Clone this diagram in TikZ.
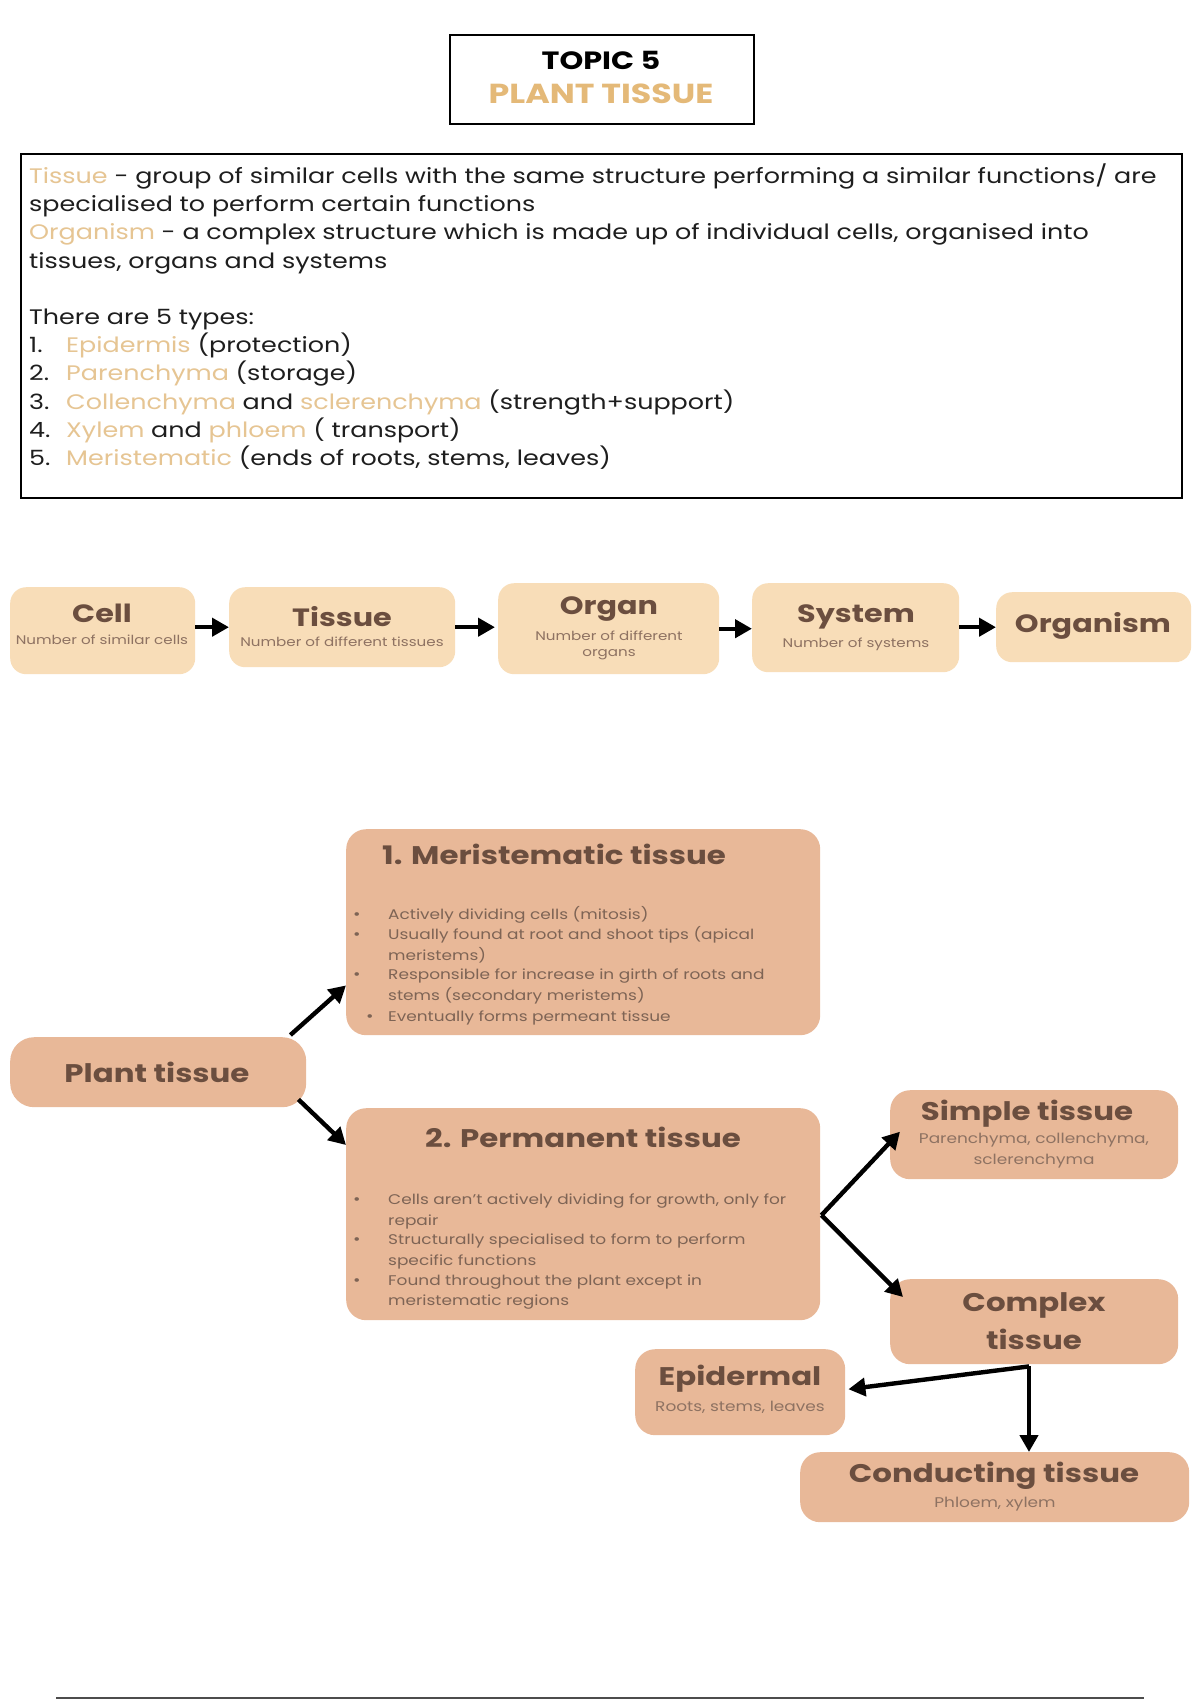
\documentclass[tikz,border=0pt]{standalone}
\usepackage{fontspec}
\setmainfont{Poppins}[FakeStretch=1.21]
\usetikzlibrary{arrows.meta,calc}
\definecolor{hl}{HTML}{E6C593}
\definecolor{ttl}{HTML}{E4B978}
\definecolor{lightbox}{HTML}{F8DDB8}
\definecolor{darkbox}{HTML}{E8B898}
\definecolor{headc}{HTML}{6B4E3F}
\definecolor{subc}{HTML}{8E7262}
\definecolor{bodyc}{HTML}{1E1E1E}
\definecolor{bulc}{HTML}{7E6455}
\begin{document}
\begin{tikzpicture}[x=1pt,y=-1pt,
  frame/.style={draw=black, line width=2pt, anchor=north west, inner sep=0},
  rowbox/.style={fill=lightbox, rounded corners=16pt, anchor=north west, inner sep=0},
  tbox/.style={fill=darkbox, rounded corners=20pt, anchor=north west, inner sep=0},
  arr/.style={line width=4.4pt, -{Triangle[length=17pt,width=18pt]}},
  deftxt/.style={anchor=base west, inner sep=0, text=bodyc, font=\fontsize{21}{26}\selectfont},
  rowhead/.style={inner sep=0, text=headc, font=\fontsize{25}{30}\selectfont\bfseries},
  rowsub/.style={inner sep=0, text=subc, font=\fontsize{12.5}{15}\selectfont},
  bighead/.style={inner sep=0, text=headc, font=\fontsize{25.5}{30}\selectfont\bfseries},
  boxsub/.style={inner sep=0, text=subc, font=\fontsize{14}{17}\selectfont},
  bultxt/.style={anchor=base west, inner sep=0, text=bulc, font=\fontsize{14}{17}\selectfont},
  bul/.style={anchor=base west, inner sep=0, text=bulc, font=\fontsize{15}{17}\selectfont}
]
\useasboundingbox[fill=white] (0,0) rectangle (1200,1700);

% ---- title box
\node[frame, minimum width=304pt, minimum height=89pt] (title) at (449,34) {};
\node[inner sep=0, font=\fontsize{25}{30}\selectfont\bfseries] (t1) at (601,60) {TOPIC 5};
\node[inner sep=0, text=ttl, font=\fontsize{27.5}{30}\selectfont\bfseries] (t2) at (601,94) {PLANT TISSUE};

% ---- definition box
\node[frame, minimum width=1161pt, minimum height=344pt] (defs) at (20,153) {};
\node[deftxt] (d1) at (29,183) {\textcolor{hl}{Tissue} - group of similar cells with the same structure performing a similar functions/ are};
\node[deftxt] (d2) at (29,211) {specialised to perform certain functions};
\node[deftxt] (d3) at (29,239) {\textcolor{hl}{Organism} - a complex structure which is made up of individual cells, organised into};
\node[deftxt] (d4) at (29,268) {tissues, organs and systems};
\node[deftxt] (d6) at (29,324) {There are 5 types:};
\node[deftxt] (n1) at (29,352) {1.};
\node[deftxt] (n2) at (29,380) {2.};
\node[deftxt] (n3) at (29,409) {3.};
\node[deftxt] (n4) at (29,437) {4.};
\node[deftxt] (n5) at (29,465) {5.};
\node[deftxt] (i1) at (66,352) {\textcolor{hl}{Epidermis} (protection)};
\node[deftxt] (i2) at (66,380) {\textcolor{hl}{Parenchyma} (storage)};
\node[deftxt] (i3) at (66,409) {\textcolor{hl}{Collenchyma} and \textcolor{hl}{sclerenchyma} (strength+support)};
\node[deftxt] (i4) at (66,437) {\textcolor{hl}{Xylem} and \textcolor{hl}{phloem} ( transport)};
\node[deftxt] (i5) at (66,465) {\textcolor{hl}{Meristematic} (ends of roots, stems, leaves)};

% ---- hierarchy row
\node[rowbox, minimum width=185pt, minimum height=87pt] (cell) at (10,587) {};
\node[rowbox, minimum width=226pt, minimum height=80pt] (tissue) at (229,587) {};
\node[rowbox, minimum width=221pt, minimum height=91pt] (organ) at (498,583) {};
\node[rowbox, minimum width=207pt, minimum height=89pt] (system) at (752,583) {};
\node[rowbox, minimum width=195pt, minimum height=70pt] (organism) at (996,592) {};

\node[rowhead] (cellh) at (102,613) {Cell};
\node[rowsub] (cells) at (102,640) {Number of similar cells};
\node[rowhead] (tissueh) at (342,617) {Tissue};
\node[rowsub] (tissues) at (342,642) {Number of different tissues};
\node[rowhead] (organh) at (609,609) {Organ};
\node[rowsub] (organs1) at (609,636) {Number of different};
\node[rowsub] (organs2) at (609,655) {organs};
\node[rowhead] (systemh) at (856,617) {System};
\node[rowsub] (systems) at (856,644) {Number of systems};
\node[rowhead] (organismh) at (1093,626) {Organism};

\draw[arr] (cell.east |- tissue.west) -- (tissue.west);
\draw[arr, shorten >=3pt] (tissue.east) -- (tissue.east -| organ.west);
\draw[arr] (organ.east) -- (organ.east -| system.west);
\draw[arr] (system.east |- organism.west) -- (organism.west);

% ---- tissue tree
\node[tbox, minimum width=474pt, minimum height=206pt] (mer) at (346,829) {};
\node[tbox, minimum width=474pt, minimum height=212pt] (perm) at (346,1108) {};
\node[tbox, rounded corners=24pt, minimum width=296pt, minimum height=70pt] (pt) at (10,1037) {};
\node[tbox, minimum width=288pt, minimum height=89pt] (simple) at (890,1090) {};
\node[tbox, minimum width=288pt, minimum height=85pt] (complex) at (890,1279) {};
\node[tbox, minimum width=210pt, minimum height=86pt] (epi) at (635,1349) {};
\node[tbox, minimum width=389pt, minimum height=70pt] (cond) at (800,1452) {};

\node[bighead, anchor=west] (merh) at (382,854) {1. Meristematic tissue};
\node[bul] (mb1) at (353,919) {•};
\node[bultxt] (m1) at (388,919) {Actively dividing cells (mitosis)};
\node[bul] (mb2) at (353,939) {•};
\node[bultxt] (m2) at (388,939) {Usually found at root and shoot tips (apical};
\node[bultxt] (m2b) at (388,960) {meristems)};
\node[bul] (mb3) at (353,979) {•};
\node[bultxt] (m3) at (388,979) {Responsible for increase in girth of roots and};
\node[bultxt] (m3b) at (388,1000) {stems (secondary meristems)};
\node[bul] (mb4) at (366,1021) {•};
\node[bultxt] (m4) at (388,1021) {Eventually forms permeant tissue};

\node[bighead] (permh) at (583,1137) {2. Permanent tissue};
\node[bul] (pb1) at (353,1204) {•};
\node[bultxt] (p1) at (388,1204) {Cells aren't actively dividing for growth, only for};
\node[bultxt] (p1b) at (388,1225) {repair};
\node[bul] (pb2) at (353,1244) {•};
\node[bultxt] (p2) at (388,1244) {Structurally specialised to form to perform};
\node[bultxt] (p2b) at (388,1265) {specific functions};
\node[bul] (pb3) at (353,1285) {•};
\node[bultxt] (p3) at (388,1285) {Found throughout the plant except in};
\node[bultxt] (p3b) at (388,1305) {meristematic regions};

\node[bighead] (pth) at (157,1072) {Plant tissue};
\node[bighead] (simpleh) at (1027,1114) {Simple tissue};
\node[boxsub] (simples1) at (1034,1140) {Parenchyma, collenchyma,};
\node[boxsub] (simples2) at (1034,1161) {sclerenchyma};
\node[bighead] (complexh1) at (1034,1305) {Complex};
\node[bighead] (complexh2) at (1034,1339) {tissue};
\node[bighead] (epih) at (740,1379) {Epidermal};
\node[boxsub] (epis) at (740,1407) {Roots, stems, leaves};
\node[bighead] (condh) at (994,1476) {Conducting tissue};
\node[boxsub] (conds) at (995,1504) {Phloem, xylem};

\coordinate (fork) at ($(perm.east)+(1,1)$);
\coordinate (cfork) at ($(complex.south west)+(139,2)$);
\draw[arr] ($(pt.north east)+(-16,-2)$) -- ($(mer.south west)+(0,-50)$);
\draw[arr] ($(pt.south east)+(-8,-8)$) -- ($(perm.north west)+(0,37)$);
\draw[arr] (fork) -- ($(simple.west)+(10,-3)$);
\draw[arr] (fork) -- ($(complex.north west)+(13,18)$);
\draw[arr] (cfork) -- ($(epi.east)+(3,-3)$);
\draw[arr] (cfork) -- (cfork |- cond.north);

% ---- bottom rule
\draw[line width=1.5pt, draw=black!70] (56,1698) -- (1144,1698);
\end{tikzpicture}
\end{document}
